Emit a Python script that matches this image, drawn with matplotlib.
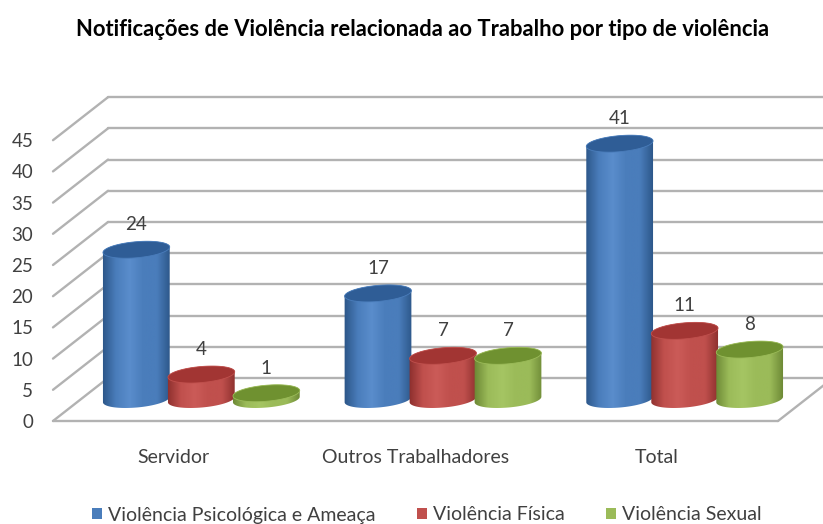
#!/usr/bin/python3

import numpy as np
import matplotlib
matplotlib.use('Agg')
import matplotlib.pyplot as plt
from matplotlib.colors import LinearSegmentedColormap
from matplotlib.patches import Patch, Polygon

categories = ['Servidor', 'Outros Trabalhadores', 'Total']
psicologica = [24, 17, 41]
fisica = [4, 7, 11]
sexual = [1, 7, 8]
series_names = ['Violência Psicológica e Ameaça', 'Violência Física', 'Violência Sexual']
y_ticks = [0, 5, 10, 15, 20, 25, 30, 35, 40, 45]
title = 'Notificações de Violência relacionada ao Trabalho por tipo de violência'

plt.rcParams['font.family'] = ['Lato', 'DejaVu Sans']

W, H = 823, 524
# pixels of the front plane of the chart box
X0, X1, Y0 = 53, 778, 421
PX_Y = 6.24  # pixels per unit of value
PX_X = (X1 - X0) / 3  # pixels per category
DEPTH_X, DEPTH_Y = 55, 43
A, B, TILT = 33.5, 8, np.radians(5)
SERIES_STEP = 65

colors = [
    # edge, mid, light, top
    ('#2b5587', '#4a7dbb', '#5a8dcc', '#2f5d96'),
    ('#8c2f2d', '#c0504d', '#cb5b58', '#a23533'),
    ('#6b8734', '#9bbb59', '#a5c563', '#6f9130'),
]

fig = plt.figure(figsize=(W / 100, H / 100), dpi=100)
ax = fig.add_axes([0, 0, 1, 1])
xlim = (-X0 / PX_X, (W - X0) / PX_X)
ylim = ((Y0 - H) / PX_Y, Y0 / PX_Y)


def dx(px):
    return px / PX_X


def dy(px):
    return px / PX_Y


# walls and floor
grid = dict(color='#b2b2b2', lw=1.7, zorder=1, solid_capstyle='round')
for v in y_ticks:
    ax.plot([0, dx(DEPTH_X)], [v, v + dy(DEPTH_Y)], **grid)
    ax.plot([dx(DEPTH_X), xlim[1]], [v + dy(DEPTH_Y)] * 2, **grid)
ax.plot([0, 3], [0, 0], **grid)
ax.plot([3, 3 + dx(DEPTH_X)], [0, dy(DEPTH_Y)], **grid)


def ellipse(cx, cy, t):
    # tilted ellipse, worked out in pixels and turned into data units
    ex = A * np.cos(t) * np.cos(TILT) - B * np.sin(t) * np.sin(TILT)
    ey = A * np.cos(t) * np.sin(TILT) + B * np.sin(t) * np.cos(TILT)
    return np.column_stack([cx + dx(ex), cy + dy(ey)])


def cylinder(cx, base, value, cols, z):
    cmap = LinearSegmentedColormap.from_list(
        'body', [cols[0], cols[1], cols[2], cols[1], cols[1], cols[0]])
    top = base + value
    t_low = np.linspace(np.pi, 2 * np.pi, 60)
    t_up = np.linspace(0, np.pi, 60)
    body = Polygon(np.vstack([ellipse(cx, base, t_low), ellipse(cx, top, t_up)]),
                   transform=ax.transData, fc='none', ec='none')
    ax.add_patch(body)
    low = base - dy(B + 6)
    high = top + dy(B + 6)
    im = ax.imshow(np.linspace(0, 1, 128).reshape(1, -1), cmap=cmap, aspect='auto',
                   extent=(cx - dx(A + 1), cx + dx(A + 1), low, high), zorder=z)
    im.set_clip_path(body)
    cap = Polygon(ellipse(cx, top, np.linspace(0, 2 * np.pi, 120)), fc=cols[3],
                  ec=cols[1], lw=0.6, zorder=z + 0.1)
    ax.add_patch(cap)


values = [psicologica, fisica, sexual]
z = 3
for i in range(len(categories)):
    for s in range(len(values)):
        cx = i + 0.5 + dx(DEPTH_X / 2) + dx((s - 1) * SERIES_STEP)
        base = dy(DEPTH_Y / 2)
        cylinder(cx, base, values[s][i], colors[s], z)
        ax.annotate(str(values[s][i]), (cx, base + values[s][i]), xytext=(0, 18),
                    textcoords='offset points', ha='center', va='center',
                    fontsize=13.5, color='#404040', zorder=20)
        z += 1

ax.set_xlim(xlim)
ax.set_ylim(ylim)
for spine in ax.spines.values():
    spine.set_visible(False)
ax.patch.set_facecolor('white')

# tick labels sit inside the full-figure axes, so negative pads
ax.set_yticks(y_ticks)
ax.set_xticks([i + 0.5 for i in range(len(categories))])
ax.set_xticklabels(categories)
ax.tick_params(axis='y', length=0, pad=-24, labelsize=13.5, labelcolor='#404040')
ax.tick_params(axis='x', length=0, pad=-(H - 449) * 0.72, labelsize=14, labelcolor='#404040')

fig.text(423 / W, 1 - 29 / H, title, ha='center', va='center', fontsize=15.8, fontweight='bold',
         color='black')

handles = [Patch(fc=c[1], ec='none') for c in colors]
ax.legend(handles, series_names, ncol=3, loc='center', bbox_to_anchor=(427 / W, 1 - 515 / H),
          frameon=False, fontsize=14, handlelength=0.5, handleheight=0.5, handletextpad=0.3,
          columnspacing=2.15, labelcolor='#404040', borderpad=0)

plt.savefig('out.png', format='png', dpi=100)
